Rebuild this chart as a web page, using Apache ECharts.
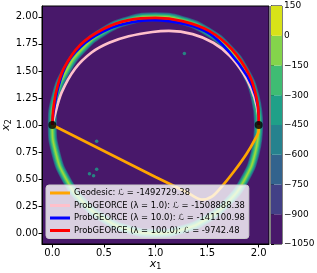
<!DOCTYPE html>
<html><head><meta charset="utf-8">
<script src="https://cdn.jsdelivr.net/npm/echarts@6/dist/echarts.min.js"></script>
<style>html,body{margin:0;padding:0;background:#fff}#c{width:317px;height:273px}</style>
</head><body><div id="c"></div>
<script>
// ---- data ----
const geodesic = [[0,1],[0.5,0.76],[1.0,0.52],[1.3,0.38],[1.45,0.31],[1.55,0.34],[1.65,0.44],[1.76,0.57],[1.88,0.73],[1.96,0.86],[2.0,0.95],[2.0,1.0]];
const probLam1 = [[0,1],[0.02,1.08],[0.09,1.30],[0.22,1.52],[0.38,1.67],[0.55,1.76],[0.74,1.82],[0.97,1.86],[1.13,1.87],[1.36,1.84],[1.56,1.76],[1.72,1.64],[1.85,1.48],[1.93,1.33],[1.98,1.18],[2.0,1.04],[2.0,1.0]];
const probLam10 = [[0,1],[0.01,1.11],[0.06,1.36],[0.15,1.58],[0.32,1.76],[0.55,1.89],[0.77,1.95],[0.97,1.97],[1.30,1.93],[1.53,1.84],[1.72,1.67],[1.89,1.45],[1.97,1.27],[2.0,1.08],[2.0,1.0]];
const probLam100 = [[0,1],[0.01,1.15],[0.04,1.32],[0.11,1.52],[0.27,1.74],[0.5,1.89],[0.74,1.97],[1.0,1.99],[1.26,1.96],[1.52,1.87],[1.74,1.70],[1.91,1.46],[1.98,1.25],[2.0,1.08],[2.0,1.0]];
const ringCenter = [[2.000,1.000],[1.966,1.259],[1.866,1.500],[1.707,1.707],[1.500,1.866],[1.259,1.966],[1.000,2.000],[0.741,1.966],[0.500,1.866],[0.293,1.707],[0.134,1.500],[0.034,1.259],[0.000,1.000],[0.034,0.741],[0.134,0.500],[0.293,0.293],[0.500,0.134],[0.741,0.034],[1.000,0.000],[1.259,0.034],[1.500,0.134],[1.707,0.293],[1.866,0.500],[1.966,0.741],[2.000,1.000]];
const endpoints = [[0,1],[2,1]];
const noiseDots = [[1.28,1.66],[0.43,0.85],[0.43,0.59],[0.36,0.55],[0.40,0.53]];
const seriesNames = ['Geodesic: ℒ = -1492729.38','ProbGEORCE (λ = 1.0): ℒ = -1508888.38','ProbGEORCE (λ = 10.0): ℒ = -141100.98','ProbGEORCE (λ = 100.0): ℒ = -9742.48'];
const cbLevels = [-1050,-900,-750,-600,-450,-300,-150,0,150];
const xTicks = [0,0.5,1.0,1.5,2.0];
const yTicks = [0,0.25,0.5,0.75,1.0,1.25,1.5,1.75,2.0];

// ---- styles ----
const cbColors = ['#48186a','#424086','#33638d','#26828e','#1fa088','#3fbc73','#84d44b','#d8e219'];
const cbBands = cbLevels.slice(0,-1).map((lo,i)=>[lo,cbLevels[i+1],i]);
const ringLayers = [[9,'#2c728e',0.7],[7.5,'#26828e',1],[6,'#1fa088',1],[4.5,'#3fbc73',1],[3,'#5ec962',1],[1.5,'#9ad83c',1]];
const F = 'DejaVu Sans';

const chart = echarts.init(document.getElementById('c'), null, {renderer:'canvas'});
const series = [];
ringLayers.forEach(([w,c,o])=>{
  series.push({type:'line',xAxisIndex:0,yAxisIndex:0,data:ringCenter,smooth:0.5,symbol:'none',silent:true,
    lineStyle:{width:w,color:c,opacity:o},z:1});
});
series.push({type:'scatter',data:noiseDots,symbolSize:3.5,itemStyle:{color:'#1fa088'},z:1});
const lineDefs = [[geodesic,'#ffa500'],[probLam1,'#ffc0cb'],[probLam10,'#0000ff'],[probLam100,'#ff0000']];
lineDefs.forEach(([d,c],i)=>{
  series.push({type:'line',name:seriesNames[i],data:d,smooth:0.3,symbol:'none',color:c,
    lineStyle:{width:2.7,color:c},z:3+i});
});
series.push({type:'scatter',data:endpoints,symbolSize:8,itemStyle:{color:'#000'},z:10});
series.push({type:'custom',xAxisIndex:1,yAxisIndex:1,data:cbBands,
  renderItem:(params,api)=>{
    const p1 = api.coord([0,api.value(1)]);
    const p2 = api.coord([1,api.value(0)]);
    return {type:'rect',shape:{x:p1[0],y:p1[1],width:p2[0]-p1[0],height:p2[1]-p1[1]},
      style:{fill:cbColors[api.value(2)]}};
  }});

chart.setOption({
  animation:false,
  grid:[
    {left:42,right:48,top:6,bottom:29,show:true,borderColor:'#000',borderWidth:1,backgroundColor:'#48186a',containLabel:false,outerBoundsMode:'none'},
    {left:271,right:35,top:6,bottom:29,show:true,borderColor:'#000',borderWidth:1,containLabel:false,outerBoundsMode:'none'}
  ],
  xAxis:[
    {type:'value',gridIndex:0,min:-0.1,max:2.1,
     name:'{a|x}{b|1}',nameLocation:'middle',nameGap:13,nameMoveOverlap:false,
     nameTextStyle:{rich:{a:{fontFamily:F,fontSize:11,fontStyle:'italic',color:'#000'},b:{fontFamily:F,fontSize:8,color:'#000',padding:[6,0,0,0]}}},
     axisLine:{show:true,onZero:false,lineStyle:{color:'#000',width:1}},
     axisTick:{show:true,length:3.5,customValues:xTicks,lineStyle:{color:'#000'}},
     axisLabel:{customValues:xTicks,formatter:v=>v.toFixed(1),fontFamily:F,fontSize:10,color:'#000',margin:4},
     splitLine:{show:false}},
    {type:'value',gridIndex:1,min:0,max:1,show:false}
  ],
  yAxis:[
    {type:'value',gridIndex:0,min:-0.1,max:2.1,
     name:'{a|x}{b|2}',nameLocation:'middle',nameGap:29,nameRotate:90,nameMoveOverlap:false,
     nameTextStyle:{rich:{a:{fontFamily:F,fontSize:11,fontStyle:'italic',color:'#000'},b:{fontFamily:F,fontSize:8,color:'#000',padding:[6,0,0,0]}}},
     axisLine:{show:true,onZero:false,lineStyle:{color:'#000',width:1}},
     axisTick:{show:true,length:3.5,customValues:yTicks,lineStyle:{color:'#000'}},
     axisLabel:{customValues:yTicks,formatter:v=>v.toFixed(2),fontFamily:F,fontSize:10,color:'#000',margin:4},
     splitLine:{show:false}},
    {type:'value',gridIndex:1,min:-1050,max:150,interval:150,position:'right',
     axisLine:{show:true,lineStyle:{color:'#000',width:1}},
     axisTick:{show:true,length:3,lineStyle:{color:'#000'}},
     axisLabel:{formatter:v=>String(v).replace('-','\u2212'),fontFamily:F,fontSize:9,color:'#000',margin:2},
     splitLine:{show:false}}
  ],
  legend:{data:seriesNames,orient:'vertical',left:46,top:185,icon:'rect',itemWidth:20,itemHeight:3,itemGap:2.5,
    padding:[3,4,3,4],backgroundColor:'rgba(255,255,255,0.8)',borderColor:'#ccc',borderWidth:1,borderRadius:3,
    textStyle:{fontFamily:F,fontSize:8.4,color:'#000',lineHeight:10,padding:[0,0,0,-1]},itemTextGap:5,
    selectedMode:false},
  series:series
});
</script></body></html>
